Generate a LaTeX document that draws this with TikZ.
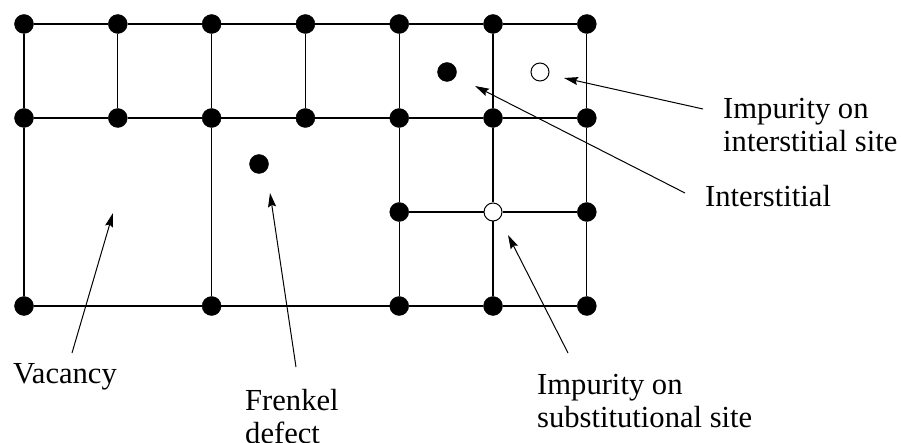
\documentclass[tikz,border=0pt]{standalone}
\usepackage{fontspec}
\setmainfont{Liberation Serif}
\usetikzlibrary{arrows.meta}
\begin{document}
\begin{tikzpicture}[x=1pt,y=-1pt,
  atom/.style={circle,fill=black,draw=black,minimum size=19pt,inner sep=0pt},
  impurity/.style={circle,fill=white,draw=black,line width=1pt,minimum size=18pt,inner sep=0pt},
  bond/.style={line width=1.1pt},
  pointer/.style={line width=1pt,-{Stealth[length=14pt,width=8pt,inset=2pt]}},
  lbl/.style={inner sep=0pt,anchor=base west,align=left,
    font=\fontsize{30.6pt}{33pt}\selectfont}]
\useasboundingbox (0,0) rectangle (901,443);

% lattice sites: columns 0..6, rows 0..3
\foreach \c/\x in {0/24,1/117.8,2/211.6,3/305.4,4/399.2,5/493,6/586.8}{
  \node[atom] (a\c0) at (\x,24) {};
  \node[atom] (a\c1) at (\x,118) {};
}
\node[atom] (a42) at (399.2,212) {};
\node[impurity] (a52) at (493,212) {};
\node[atom] (a62) at (586.8,212) {};
\foreach \c/\x in {0/24,2/211.6,4/399.2,5/493,6/586.8}{
  \node[atom] (a\c3) at (\x,306) {};
}

% interstitial atoms
\node[atom] (int1) at (447,72) {};
\node[atom] (int2) at (259,164) {};
\node[impurity] (imp) at (540,72) {};

% bonds
\draw[bond] (a00)--(a10)--(a20)--(a30)--(a40)--(a50)--(a60);
\draw[bond] (a01)--(a11)--(a21)--(a31)--(a41)--(a51)--(a61);
\draw[bond] (a42)--(a52)--(a62);
\draw[bond] (a03)--(a23)--(a43)--(a53)--(a63);
\draw[bond] (a00)--(a01)--(a03);
\draw[bond] (a10)--(a11);
\draw[bond] (a20)--(a21)--(a23);
\draw[bond] (a30)--(a31);
\draw[bond] (a40)--(a41)--(a42)--(a43);
\draw[bond] (a50)--(a51)--(a52)--(a53);
\draw[bond] (a60)--(a61)--(a62)--(a63);

% labels (base anchor = baseline of the last line)
\node[lbl] (vac) at (13,383) {Vacancy};
\node[lbl] (fre) at (245,443) {Frenkel\\defect};
\node[lbl] (ins) at (705,207) {Interstitial};
\node[lbl] (imi) at (723,152) {Impurity on\\interstitial site};
\node[lbl] (ims) at (537,427) {Impurity on\\substitutional site};

% arrow tips
\coordinate (tvac) at (113,213);
\coordinate (tfre) at (270,193);
\coordinate (tins) at (475,86);
\coordinate (timi) at (564,78);
\coordinate (tims) at (508,235);

\draw[pointer] ([xshift=59pt,yshift=30pt]vac.base west) -- (tvac);
\draw[pointer] ([xshift=51pt,yshift=76pt]fre.base west) -- (tfre);
\draw[pointer] ([xshift=-20pt,yshift=14pt]ins.base west) -- (tins);
\draw[pointer] ([xshift=-20pt,yshift=43pt]imi.base west) -- (timi);
\draw[pointer] ([xshift=31pt,yshift=74pt]ims.base west) -- (tims);
\end{tikzpicture}
\end{document}
